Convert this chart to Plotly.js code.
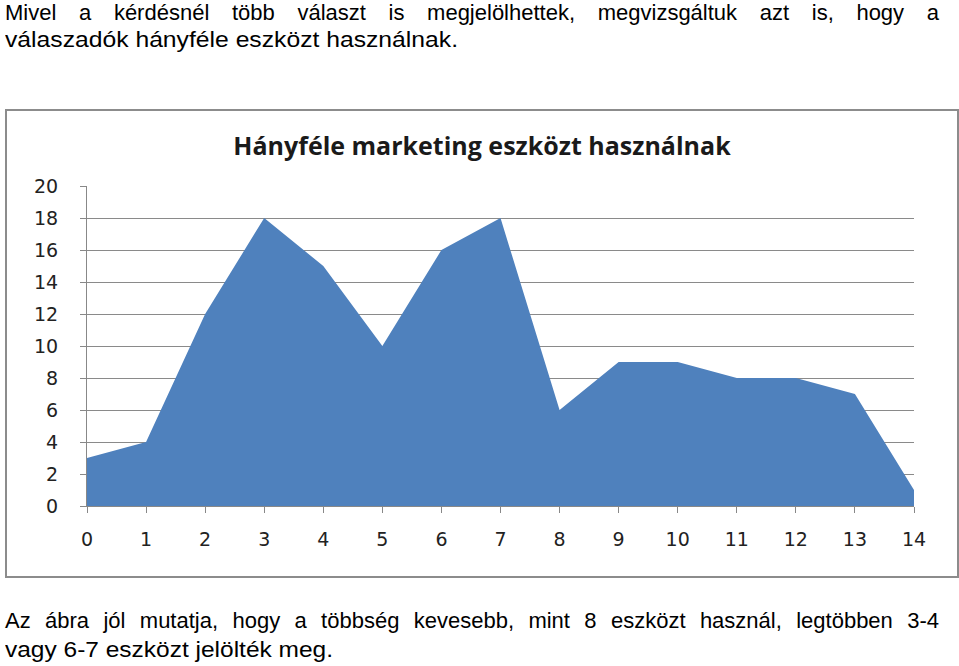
<!DOCTYPE html>
<html><head><meta charset="utf-8">
<script src="https://cdn.plot.ly/plotly-3.0.1.min.js"></script>
<style>
body{margin:0;padding:0;background:#fff;width:959px;height:666px;overflow:hidden;position:relative;font-family:"Liberation Sans",Arial,sans-serif;}
.l{position:absolute;left:5px;font-size:22px;line-height:27px;color:#000;white-space:nowrap;transform-origin:0 0;}
.j{width:934px;text-align:justify;text-align-last:justify;white-space:normal;}
#chart{position:absolute;left:5px;top:109px;width:950px;height:465px;border:2px solid #8c8c8c;}
</style></head><body>
<div class="l j" style="top:-1px;">Mivel a kérdésnél több választ is megjelölhettek, megvizsgáltuk azt is, hogy a</div>
<div class="l" id="l2" style="top:26px;">válaszadók hányféle eszközt használnak.</div>
<div id="chart"></div>
<div class="l j" style="top:607px;">Az ábra jól mutatja, hogy a többség kevesebb, mint 8 eszközt használ, legtöbben 3-4</div>
<div class="l" id="l4" style="top:636px;">vagy 6-7 eszközt jelölték meg.</div>
<script>
const categories = [0,1,2,3,4,5,6,7,8,9,10,11,12,13,14];
const counts = [3,4,12,18,15,10,16,18,6,9,9,8,8,7,1];
const yTicks = [0,2,4,6,8,10,12,14,16,18,20];
const chartTitle = "Hányféle marketing eszközt használnak";

// fit unjustified lines to the reference widths
function fit(id, w){ const el=document.getElementById(id); const cw=el.getBoundingClientRect().width; el.style.transform='scaleX('+(w/cw)+')'; }
fit('l2', 453); fit('l4', 328);
document.querySelectorAll('.j').forEach(el=>{});

Plotly.newPlot('chart', [{
  x: categories, y: counts, type: 'scatter', mode: 'lines', fill: 'tozeroy',
  fillcolor: '#4F81BD', line: {width: 0, color: '#4F81BD'}, hoverinfo: 'skip'
}], {
  width: 950, height: 465,
  margin: {l: 80, r: 43, t: 75, b: 70},
  paper_bgcolor: '#fff', plot_bgcolor: '#fff',
  showlegend: false,
  title: {text: '<b>' + chartTitle + '</b>', x: 0.5, xanchor: 'center', y: 0.925, yanchor: 'middle',
    font: {family: 'Open Sans, sans-serif', size: 25, color: '#1a1a1a'}},
  xaxis: {range: [0, 14], tickvals: categories, ticktext: categories.map(String),
    showgrid: false, zeroline: false, showline: true, linecolor: '#888', linewidth: 1,
    ticks: 'outside', ticklen: 6, tickcolor: '#888',
    tickfont: {family: 'DejaVu Sans, sans-serif', size: 19, color: '#222'}, ticklabelstandoff: 10},
  yaxis: {range: [0, 20], tickvals: yTicks, ticktext: yTicks.map(String),
    showgrid: true, gridcolor: '#8a8a8a', gridwidth: 1, zeroline: false,
    showline: true, linecolor: '#888', linewidth: 1,
    ticks: 'outside', ticklen: 6, tickcolor: '#888',
    tickfont: {family: 'DejaVu Sans, sans-serif', size: 19, color: '#222'}, ticklabelstandoff: 18},
}, {staticPlot: true});
</script>
</body></html>
